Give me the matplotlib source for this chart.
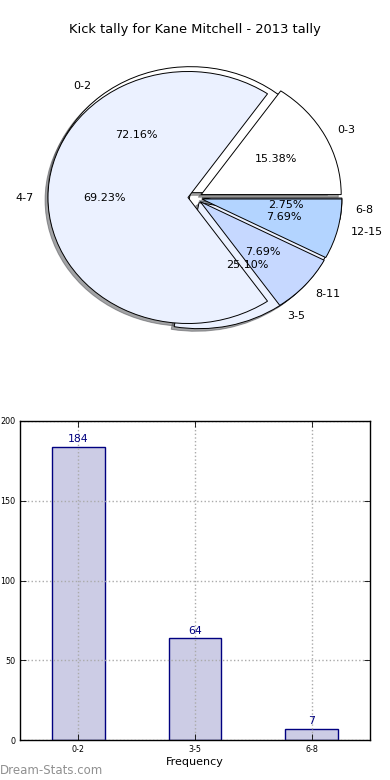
import matplotlib
matplotlib.use("Agg")
import matplotlib.pyplot as plt
import numpy as np

# kick tally data (2013)
kick_labels = ['0-2', '3-5', '6-8']
kick_counts = [184, 64, 7]

# second breakdown drawn on the same pie
band_labels = ['0-3', '4-7', '8-11', '12-15']
band_counts = [2, 9, 1, 1]

pie_colors = ['#ffffff', '#ebf1ff', '#c6d8ff', '#b3d4ff']

fig = plt.figure(figsize=(3.9, 7.8), dpi=100)

# pie chart
ax1 = fig.add_axes([20/390, 1 - 355/780, 350/390, 315/780])
wp = dict(edgecolor='black', linewidth=0.7)
tp = dict(fontsize=8)
shadow = dict(ox=-0.015, oy=-0.015)
ax1.pie(kick_counts, labels=kick_labels, colors=pie_colors[:3], autopct='%1.2f%%',
        explode=[0.05]*len(kick_counts), shadow=shadow, startangle=0,
        wedgeprops=wp, textprops=tp)
ax1.pie(band_counts, labels=band_labels, colors=pie_colors, autopct='%1.2f%%',
        explode=[0.05]*len(band_counts), shadow=shadow, startangle=0,
        wedgeprops=wp, textprops=tp)
ax1.set_aspect('auto')
ax1.set_xlim(-1.25, 1.25)
ax1.set_ylim(-1.25, 1.25)
ax1.axis('off')

fig.text(0.5, 1 - 30/780, 'Kick tally for Kane Mitchell - 2013 tally',
         ha='center', va='center', fontsize=9.4)

# bar chart
ax2 = fig.add_axes([20/390, 40/780, 350/390, 319/780])
x = np.arange(len(kick_labels))
ax2.bar(x, kick_counts, width=0.45, color='navy', alpha=0.2, zorder=1)
ax2.bar(x, kick_counts, width=0.45, fill=False, edgecolor='navy', linewidth=1, zorder=1)
for xi, v in zip(x, kick_counts):
    ax2.text(xi, v + 1.5, str(v), ha='center', va='bottom', color='navy', fontsize=7.8)
ax2.set_xlim(-0.5, 2.5)
ax2.set_ylim(0, 200)
ax2.set_xticks(x)
ax2.set_xticklabels(kick_labels)
ax2.set_yticks([0, 50, 100, 150, 200])
ax2.tick_params(direction='in', top=True, right=True, labelsize=5.8, length=4, width=0.6)
ax2.grid(True, linestyle=':', color='#aaaaaa', linewidth=1.0, zorder=2)
ax2.set_axisbelow(False)
ax2.set_xlabel('Frequency', fontsize=8, labelpad=2)
for s in ax2.spines.values():
    s.set_linewidth(1)
    s.set_zorder(4)

fig.text(0.0, 1 - 771/780, 'Dream-Stats.com', ha='left', va='center',
         fontsize=8.5, color='#909090')

fig.savefig('out.png', dpi=100)
